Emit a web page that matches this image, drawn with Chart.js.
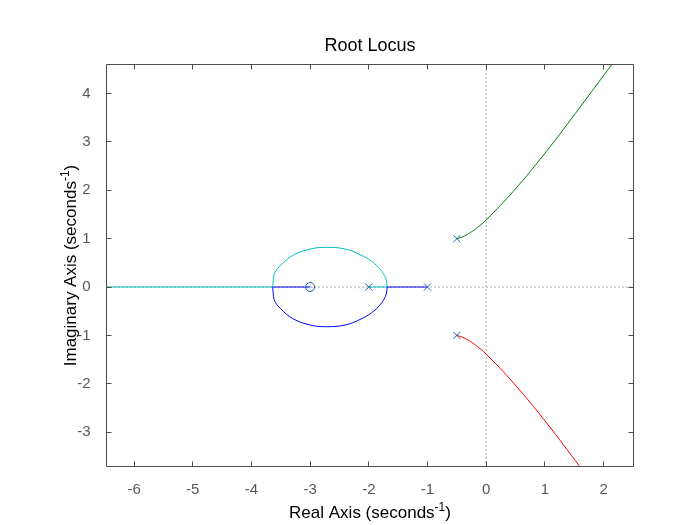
<!DOCTYPE html>
<html>
<head>
<meta charset="utf-8">
<script src="https://cdn.jsdelivr.net/npm/chart.js@4.4.1/dist/chart.umd.min.js"></script>
<style>
  html, body { margin: 0; padding: 0; background: #fff; }
  #wrap { width: 700px; height: 525px; }
</style>
</head>
<body>
<div id="wrap"><canvas id="locus" width="700" height="525"></canvas></div>
<script>
// axis limits and ticks
const xLimits = [-6.47, 2.51];
const yLimits = [-3.71, 4.6];
const xTicks = [-6, -5, -4, -3, -2, -1, 0, 1, 2];
const yTicks = [-3, -2, -1, 0, 1, 2, 3, 4];

// open loop poles (x) and zero (o)
const poleRe = [-0.5, -0.5, -1, -2];
const poleIm = [1, -1, 0, 0];
const zeroRe = [-3];
const zeroIm = [0];

// blue branch: pole -1 to breakaway, lower loop, then into the zero
const blueRealRe = [-1, -1.6875];
const blueRealIm = [0, 0];
const blueLoopRe = [-1.6875, -1.696, -1.72, -1.8, -1.95, -2.15, -2.4, -2.72, -3.0, -3.3, -3.5, -3.6, -3.628, -3.637];
const blueLoopIm = [0, -0.1, -0.2, -0.355, -0.53, -0.67, -0.785, -0.82, -0.785, -0.65, -0.45, -0.3, -0.15, 0];
const blueTailRe = [-3.637, -3];
const blueTailIm = [0, 0];

// cyan branch: pole -2 to breakaway, upper loop, then out to -inf
const cyanRealRe = [-2, -1.6875];
const cyanRealIm = [0, 0];
const cyanLoopRe = [-1.6875, -1.696, -1.72, -1.8, -1.95, -2.15, -2.4, -2.72, -3.0, -3.3, -3.5, -3.6, -3.628, -3.637];
const cyanLoopIm = [0, 0.1, 0.2, 0.355, 0.53, 0.67, 0.785, 0.82, 0.785, 0.65, 0.45, 0.3, 0.15, 0];
const cyanTailRe = [-3.637, -7];
const cyanTailIm = [0, 0];

// complex pair going out along the asymptotes
const greenRe = [-0.5, -0.4, -0.27, -0.15, 0, 0.47, 1.03, 1.6, 2.14, 2.3];
const greenIm = [1, 1.04, 1.125, 1.23, 1.3865, 1.99, 2.81, 3.72, 4.6, 4.86];
const redRe = [-0.5, -0.4, -0.27, -0.15, 0, 0.47, 1.03, 1.6, 1.8];
const redIm = [-1, -1.04, -1.125, -1.23, -1.3865, -1.99, -2.81, -3.72, -4.04];

const markerColor = '#2060a8';
const FONT = '"Liberation Sans", Arial, sans-serif';

function pts(re, im) {
    return re.map((r, i) => ({ x: r, y: im[i] }));
}

function branch(re, im, color, tension) {
    return {
        data: pts(re, im),
        showLine: true,
        borderColor: color,
        borderWidth: 1,
        pointRadius: 0,
        tension: tension || 0,
        fill: false
    };
}

function dotted(data) {
    return {
        data: data,
        showLine: true,
        borderColor: '#555555',
        borderWidth: 1,
        borderDash: [1, 3],
        pointRadius: 0,
        fill: false
    };
}

// text with a "-1" exponent, drawn centred on cx at baseline cy
function supText(ctx, main, sup, tail, cx, cy, size) {
    const big = size + 'px ' + FONT;
    const small = Math.round(size * 0.68) + 'px ' + FONT;
    ctx.font = big;
    const w1 = ctx.measureText(main).width;
    const w3 = ctx.measureText(tail).width;
    ctx.font = small;
    const w2 = ctx.measureText(sup).width;
    let x = cx - (w1 + w2 + w3) / 2;
    ctx.textAlign = 'left';
    ctx.textBaseline = 'alphabetic';
    ctx.font = big;
    ctx.fillText(main, x, cy);
    x += w1;
    ctx.font = small;
    ctx.fillText(sup, x, cy - size * 0.42);
    x += w2;
    ctx.font = big;
    ctx.fillText(tail, x, cy);
}

const frame = {
    id: 'frame',
    afterDraw(chart) {
        const { ctx, chartArea: a, scales } = chart;
        ctx.save();
        ctx.strokeStyle = '#4d4d4d';
        ctx.lineWidth = 1;
        ctx.beginPath();
        ctx.rect(a.left, a.top, a.right - a.left, a.bottom - a.top);
        xTicks.forEach(v => {
            const px = Math.round(scales.x.getPixelForValue(v) - 0.5) + 0.5;
            ctx.moveTo(px, a.bottom); ctx.lineTo(px, a.bottom - 5);
            ctx.moveTo(px, a.top); ctx.lineTo(px, a.top + 5);
        });
        yTicks.forEach(v => {
            const py = Math.round(scales.y.getPixelForValue(v) - 0.5) + 0.5;
            ctx.moveTo(a.left, py); ctx.lineTo(a.left + 5, py);
            ctx.moveTo(a.right, py); ctx.lineTo(a.right - 5, py);
        });
        ctx.stroke();

        ctx.fillStyle = '#000000';
        const cx = (a.left + a.right) / 2;
        const cy = (a.top + a.bottom) / 2;
        ctx.font = '18px ' + FONT;
        ctx.textAlign = 'center';
        ctx.textBaseline = 'alphabetic';
        ctx.fillText('Root Locus', cx, 51);

        supText(ctx, 'Real Axis (seconds', '-1', ')', cx, 518, 17);

        ctx.translate(76, cy);
        ctx.rotate(-Math.PI / 2);
        supText(ctx, 'Imaginary Axis (seconds', '-1', ')', 0, 0, 17);
        ctx.restore();
    }
};

new Chart(document.getElementById('locus'), {
    type: 'scatter',
    data: {
        datasets: [
            {
                data: pts(poleRe, poleIm),
                pointStyle: 'crossRot',
                pointRadius: 5,
                pointBorderWidth: 1,
                pointBorderColor: markerColor,
                showLine: false
            },
            {
                data: pts(zeroRe, zeroIm),
                pointStyle: 'circle',
                pointRadius: 4.5,
                pointBorderWidth: 1,
                pointBorderColor: markerColor,
                pointBackgroundColor: 'rgba(0,0,0,0)',
                showLine: false
            },
            branch(blueRealRe, blueRealIm, '#0000ff'),
            branch(blueLoopRe, blueLoopIm, '#0000ff', 0.4),
            branch(blueTailRe, blueTailIm, '#0000ff'),
            branch(cyanRealRe, cyanRealIm, '#00bfbf'),
            branch(cyanLoopRe, cyanLoopIm, '#00bfbf', 0.4),
            branch(cyanTailRe, cyanTailIm, '#00bfbf'),
            branch(greenRe, greenIm, '#008000', 0.4),
            branch(redRe, redIm, '#ff0000', 0.4),
            dotted([{ x: xLimits[0], y: 0 }, { x: xLimits[1], y: 0 }]),
            dotted([{ x: 0, y: yLimits[0] }, { x: 0, y: yLimits[1] }])
        ]
    },
    options: {
        responsive: false,
        animation: false,
        events: [],
        layout: {
            padding: { left: 0, right: 66.5, top: 64.5, bottom: 0 }
        },
        scales: {
            x: {
                type: 'linear',
                min: xLimits[0],
                max: xLimits[1],
                afterFit: s => { s.height = 58.5; },
                afterBuildTicks: s => { s.ticks = xTicks.map(v => ({ value: v })); },
                grid: { display: false },
                border: { display: false },
                ticks: {
                    color: '#595959',
                    font: { family: FONT, size: 15 },
                    padding: 6,
                    maxRotation: 0
                }
            },
            y: {
                type: 'linear',
                min: yLimits[0],
                max: yLimits[1],
                afterFit: s => { s.width = 106.5; },
                afterBuildTicks: s => { s.ticks = yTicks.map(v => ({ value: v })); },
                grid: { display: false },
                border: { display: false },
                ticks: {
                    color: '#595959',
                    font: { family: FONT, size: 15 },
                    padding: 8
                }
            }
        },
        plugins: {
            legend: { display: false },
            tooltip: { enabled: false },
            title: { display: false }
        }
    },
    plugins: [frame]
});
</script>
</body>
</html>
